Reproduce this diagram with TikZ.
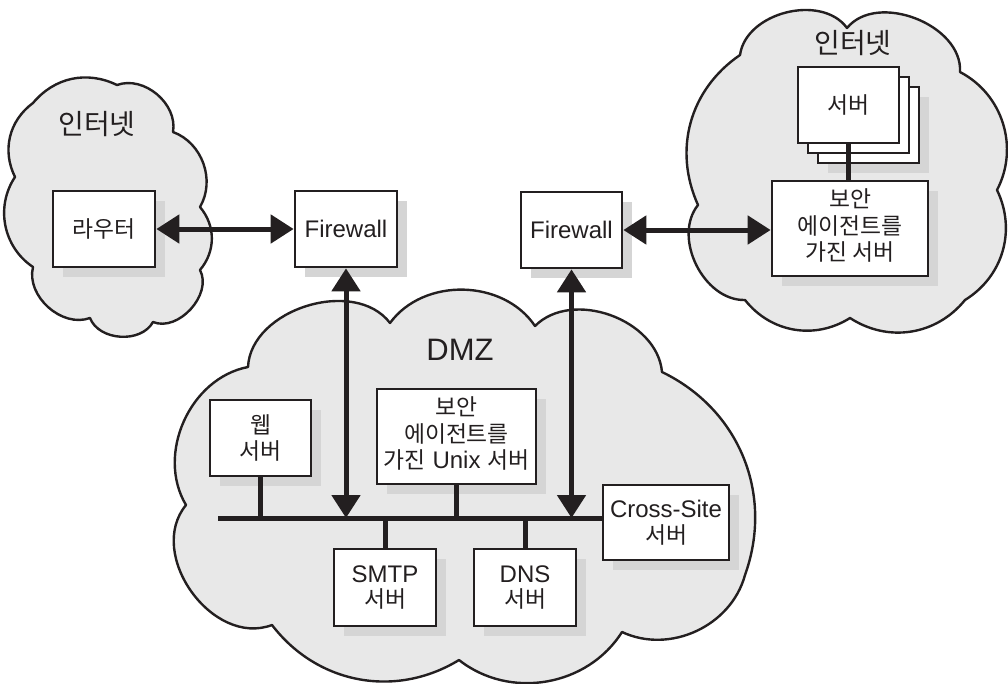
\documentclass[tikz,border=0pt]{standalone}
\usepackage{fontspec}
\setmainfont{Liberation Sans}
\newfontfamily\kr{Noto Sans CJK KR}[Scale=0.95]
\usetikzlibrary{arrows.meta,shadows}
\definecolor{ink}{HTML}{231F20}
\definecolor{cloudfill}{HTML}{E8E8E8}
\definecolor{shade}{HTML}{D5D5D5}
\begin{document}
\begin{tikzpicture}[x=1pt,y=-1pt,
  cloudst/.style={draw=ink, line width=2.4pt, fill=cloudfill, line join=round},
  box/.style={draw=ink, line width=2.7pt, fill=white, align=center, inner sep=0pt,
    text=ink, font=\fontsize{24}{25.5}\selectfont},
  shad/.style={drop shadow={shadow xshift=10pt, shadow yshift=-10pt, fill=shade, opacity=1}},
  wire/.style={draw=ink, line width=5pt},
  tip/.tip={Triangle[length=23pt,width=28pt]},
  dbl/.style={wire, tip-tip},
  cloudlabel/.style={text=ink, font=\fontsize{29.5}{30}\selectfont\kr, inner sep=0pt},
]
\useasboundingbox (0,0) rectangle (1008,683);

% clouds
\path[cloudst] (33,103) to[bend left=38] (117,85) to[bend left=60] (173,132)
  to[bend left=50] (200,207) to[bend left=40] (200,270) to[bend left=70] (153,322)
  to[bend left=65] (90,318) to[bend left=62] (33,267) to[bend left=45] (15,177)
  to[bend left=40] (33,103) -- cycle;
\path[cloudst] (740,55) to[bend left=68] (847,28) to[bend left=72] (960,72)
  to[bend left=45] (997,190) to[bend left=42] (965,300) to[bend left=42] (850,318)
  to[bend left=42] (745,300) to[bend left=65] (698,205) to[bend left=40] (740,55) -- cycle;
\path[cloudst] (248,367) to[bend left=70] (390,323) to[bend left=55] (535,326)
  to[bend left=65] (662,372) to[bend left=42] (745,575) to[bend left=50] (622,632)
  to[bend left=48] (459,660) to[bend left=42] (272,625)
  to[bend left=75, looseness=1.1] (186,505) to[bend left=55] (248,367) -- cycle;

% cloud labels
\node[cloudlabel] (netL) at (97,124) {인터넷};
\node[cloudlabel] (netR) at (853,43) {인터넷};
\node[text=ink, font=\fontsize{31}{33}\selectfont, inner sep=0pt] (dmz) at (460,350) {DMZ};

% boxes
\node[box, shad, minimum width=102pt, minimum height=76pt] (router) at (104,229) {{\kr 라우터}};
\node[box, shad, minimum width=102pt, minimum height=76pt] (fw1) at (346,229) {Firewall};
\node[box, shad, minimum width=101pt, minimum height=76pt] (fw2) at (571.5,230) {Firewall};
\node[box, shad, minimum width=101pt, minimum height=76pt] (st3) at (868.5,125) {};
\node[box, minimum width=101pt, minimum height=76pt] (st2) at (858.5,115) {};
\node[box, minimum width=101pt, minimum height=76pt] (stack) at (848.5,105) {{\kr 서버}};
\node[box, shad, minimum width=156pt, minimum height=95pt] (sec) at (850,228.5)
  {\raisebox{7pt}{\begin{tabular}{@{}c@{}}{\kr 보안}\\{\kr 에이전트를}\\{\kr 가진 서버}\end{tabular}}};
\node[box, shad, minimum width=101pt, minimum height=76pt] (web) at (260.5,438)
  {{\kr 웹}\\{\kr 서버}};
\node[box, shad, minimum width=159pt, minimum height=95pt] (unix) at (456.5,436.5)
  {\raisebox{3pt}{\begin{tabular}{@{}c@{}}{\kr 보안}\\{\kr 에이전트를}\\{\kr 가진} Unix {\kr 서버}\end{tabular}}};
\node[box, shad, minimum width=102pt, minimum height=77pt] (smtp) at (385,587.5)
  {SMTP\\{\kr 서버}};
\node[box, shad, minimum width=102pt, minimum height=77pt] (dns) at (525,587.5)
  {DNS\\{\kr 서버}};
\node[box, shad, minimum width=126pt, minimum height=75pt] (cross) at (666,522.5)
  {Cross-Site\\{\kr 서버}};

% bus and connectors
\coordinate (busL) at (218,518);
\draw[wire] (busL) -- (cross.west |- busL);
\draw[wire] (web.south) -- (web.south |- busL);
\draw[wire] (unix.south) -- (unix.south |- busL);
\draw[wire] (smtp.north) -- (smtp.north |- busL);
\draw[wire] (dns.north) -- (dns.north |- busL);
\draw[wire] (stack.south) -- (sec.north -| stack.south);

% arrows
\draw[dbl] (router.east) -- (fw1.west);
\draw[dbl] (fw2.east) -- (fw2.east -| sec.west);
\draw[dbl] (fw1.south) -- (fw1.south |- busL);
\draw[dbl] (fw2.south) -- (fw2.south |- busL);
\end{tikzpicture}
\end{document}
